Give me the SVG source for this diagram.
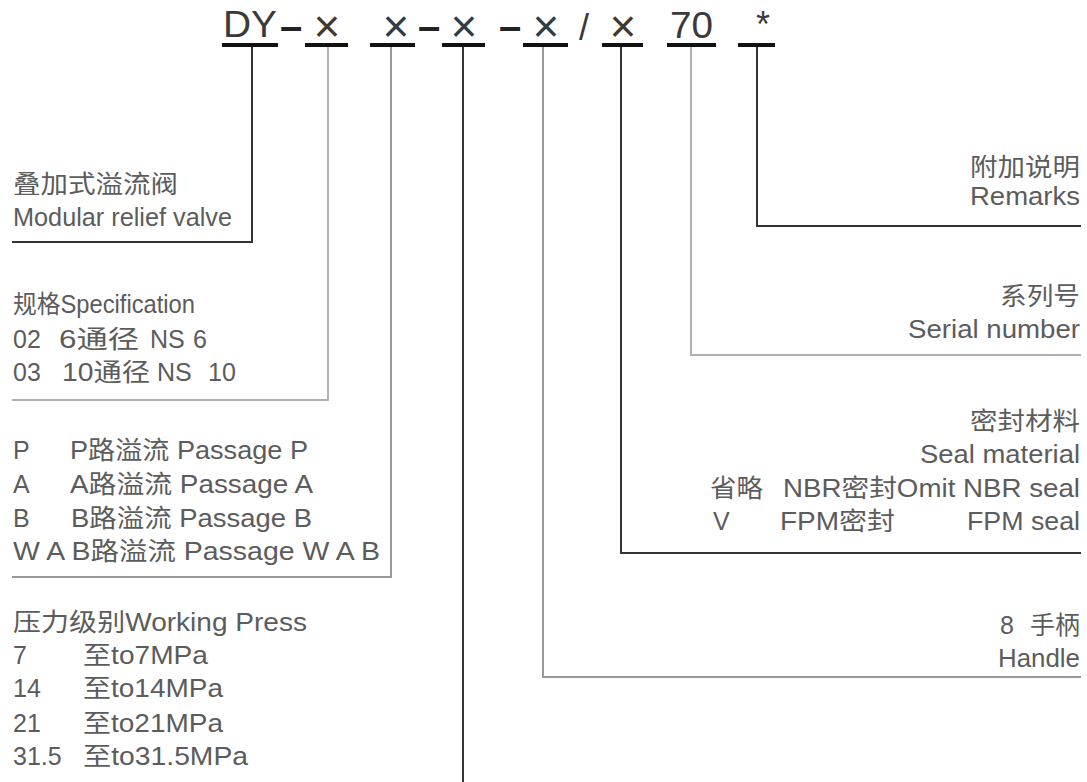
<svg xmlns="http://www.w3.org/2000/svg" width="1087" height="782" viewBox="0 0 1087 782">
<style>
.h{font-family:"Liberation Sans","Noto Sans CJK SC",sans-serif;font-size:36px;fill:#3a3a3a}
.x{font-family:"Liberation Sans",sans-serif;font-size:46px;fill:#3a3a3a;text-anchor:middle}
.d{font-family:"Liberation Sans",sans-serif;font-size:40px;font-weight:bold;fill:#222;text-anchor:middle}
.t{font-family:"Liberation Sans","Noto Sans CJK SC",sans-serif;font-size:25px;fill:#5c5c5c}
.r{text-anchor:end}
.ul{stroke:#111;stroke-width:4;fill:none}
.dk{stroke:#333;stroke-width:2;fill:none}
.gy{stroke:#999;stroke-width:2;fill:none}
.lg{stroke:#b0b0b0;stroke-width:2;fill:none}
</style>
<rect width="1087" height="782" fill="#fff"/>
<g id="code">
<text class="h" x="223" y="37" textLength="54" lengthAdjust="spacingAndGlyphs">DY</text>
<text class="d" x="291" y="40">–</text>
<text class="x" x="327" y="42">×</text>
<text class="x" x="396" y="42">×</text>
<text class="d" x="429" y="40">–</text>
<text class="x" x="464" y="42">×</text>
<text class="d" x="510" y="40">–</text>
<text class="x" x="546" y="42">×</text>
<text class="h" x="584" y="40" text-anchor="middle">/</text>
<text class="x" x="623" y="42">×</text>
<text class="h" x="670" y="38" textLength="43" lengthAdjust="spacingAndGlyphs">70</text>
<text class="h" x="763" y="37" text-anchor="middle">*</text>
<path class="ul" d="M222,45H278M305,45H348M370,45H415M442,45H485M523,45H568M602,45H643M667,45H716M738,45H775"/>
</g>
<g id="connectors">
<path class="dk" d="M252,47V242H12"/>
<path class="lg" d="M328,47V400H12"/>
<path class="gy" d="M391,47V577H12"/>
<path class="dk" d="M463,47V782"/>
<path class="gy" d="M543,47V677H1081"/>
<path class="dk" d="M621,47V553H1081"/>
<path class="lg" d="M691,47V355H1081"/>
<path class="dk" d="M757,47V226H1081"/>
</g>
<g id="type">
<text class="t" x="13" y="193" textLength="165" lengthAdjust="spacingAndGlyphs">叠加式溢流阀</text>
<text class="t" x="13" y="226" textLength="219" lengthAdjust="spacingAndGlyphs">Modular relief valve</text>
</g>
<g id="spec">
<text class="t" x="13" y="313" textLength="182" lengthAdjust="spacingAndGlyphs">规格Specification</text>
<text class="t" x="13" y="348">02</text>
<text class="t" x="59" y="348" textLength="80" lengthAdjust="spacingAndGlyphs">6通径</text>
<text class="t" x="150" y="348">NS</text>
<text class="t" x="193" y="348">6</text>
<text class="t" x="13" y="381">03</text>
<text class="t" x="62" y="381" textLength="88" lengthAdjust="spacingAndGlyphs">10通径</text>
<text class="t" x="157" y="381">NS</text>
<text class="t" x="208" y="381">10</text>
</g>
<g id="passage">
<text class="t" x="13" y="459">P</text>
<text class="t" x="70" y="459" textLength="238" lengthAdjust="spacingAndGlyphs">P路溢流 Passage P</text>
<text class="t" x="13" y="493">A</text>
<text class="t" x="70" y="493" textLength="243" lengthAdjust="spacingAndGlyphs">A路溢流 Passage A</text>
<text class="t" x="13" y="527">B</text>
<text class="t" x="71" y="527" textLength="241" lengthAdjust="spacingAndGlyphs">B路溢流 Passage B</text>
<text class="t" x="13" y="560" textLength="367" lengthAdjust="spacingAndGlyphs">W A B路溢流 Passage W A B</text>
</g>
<g id="pressure">
<text class="t" x="13" y="631" textLength="294" lengthAdjust="spacingAndGlyphs">压力级别Working Press</text>
<text class="t" x="13" y="664">7</text>
<text class="t" x="83" y="664" textLength="125" lengthAdjust="spacingAndGlyphs">至to7MPa</text>
<text class="t" x="13" y="697">14</text>
<text class="t" x="83" y="697" textLength="140" lengthAdjust="spacingAndGlyphs">至to14MPa</text>
<text class="t" x="13" y="732">21</text>
<text class="t" x="83" y="732" textLength="140" lengthAdjust="spacingAndGlyphs">至to21MPa</text>
<text class="t" x="13" y="765">31.5</text>
<text class="t" x="83" y="765" textLength="165" lengthAdjust="spacingAndGlyphs">至to31.5MPa</text>
</g>
<g id="remarks">
<text class="t" x="970" y="176" textLength="110" lengthAdjust="spacingAndGlyphs">附加说明</text>
<text class="t" x="970" y="205" textLength="110" lengthAdjust="spacingAndGlyphs">Remarks</text>
</g>
<g id="serial">
<text class="t" x="1000" y="305" textLength="80" lengthAdjust="spacingAndGlyphs">系列号</text>
<text class="t" x="908" y="338" textLength="172" lengthAdjust="spacingAndGlyphs">Serial number</text>
</g>
<g id="seal">
<text class="t" x="970" y="430" textLength="110" lengthAdjust="spacingAndGlyphs">密封材料</text>
<text class="t" x="920" y="463" textLength="160" lengthAdjust="spacingAndGlyphs">Seal material</text>
<text class="t" x="710" y="497" textLength="53" lengthAdjust="spacingAndGlyphs">省略</text>
<text class="t" x="783" y="497" textLength="297" lengthAdjust="spacingAndGlyphs">NBR密封Omit NBR seal</text>
<text class="t" x="713" y="530">V</text>
<text class="t" x="780" y="530" textLength="115" lengthAdjust="spacingAndGlyphs">FPM密封</text>
<text class="t" x="967" y="530" textLength="113" lengthAdjust="spacingAndGlyphs">FPM seal</text>
</g>
<g id="handle">
<text class="t" x="1000" y="634">8</text>
<text class="t r" x="1080" y="634">手柄</text>
<text class="t" x="998" y="667" textLength="82" lengthAdjust="spacingAndGlyphs">Handle</text>
</g>
</svg>
